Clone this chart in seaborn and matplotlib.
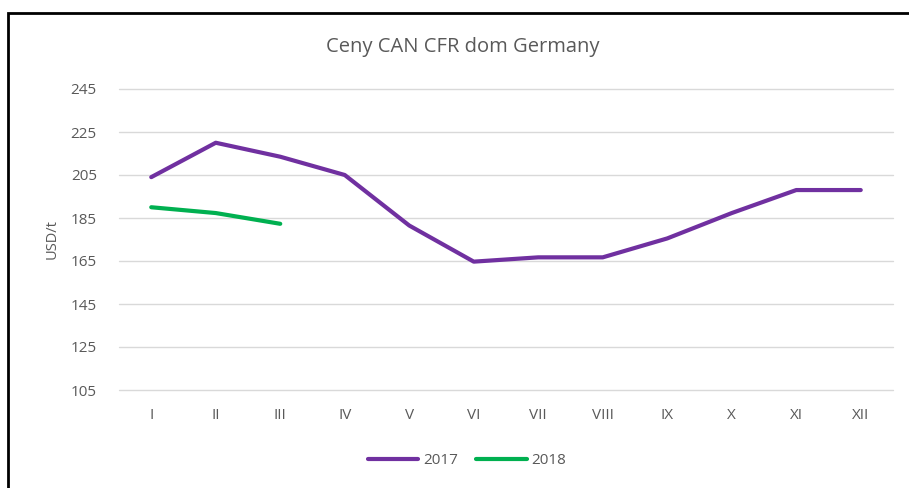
import matplotlib
matplotlib.use("Agg")
import matplotlib.pyplot as plt
import seaborn as sns
import pandas as pd
import numpy as np
from matplotlib.patches import Rectangle
from matplotlib.lines import Line2D

months = ["I", "II", "III", "IV", "V", "VI", "VII", "VIII", "IX", "X", "XI", "XII"]
values_2017 = [204, 220, 213.5, 205, 181.5, 164.7, 166.7, 166.7, 175.5, 187.3, 198, 198]
values_2018 = [190, 187.3, 182.3]
years = ["2017", "2018"]
colors = {"2017": "#7030A0", "2018": "#00B050"}
y_ticks = [105, 125, 145, 165, 185, 205, 225, 245]

rows = []
for m, v in zip(months, values_2017):
    rows.append({"month": m, "value": v, "year": "2017"})
for m, v in zip(months, values_2018):
    rows.append({"month": m, "value": v, "year": "2018"})
df = pd.DataFrame(rows)

sns.set_theme(style="white")
plt.rcParams["font.family"] = ["Open Sans", "DejaVu Sans"]

fig = plt.figure(figsize=(9.09, 4.88), dpi=100)
ax = fig.add_axes([119 / 909, 1 - 390 / 488, 774 / 909, 301 / 488])

sns.lineplot(data=df, x="month", y="value", hue="year", palette=colors,
             hue_order=years, linewidth=3, ax=ax, legend=False, sort=False)

ax.set_xlim(-0.5, 11.5)
ax.set_ylim(105, 245)
ax.set_yticks(y_ticks)
ax.set_xticks(range(len(months)))
ax.set_xticklabels(months)
ax.yaxis.grid(True, color="#D9D9D9", linewidth=1)
for gl in ax.get_ygridlines():
    gl.set_clip_on(False)
ax.set_axisbelow(True)
ax.xaxis.grid(False)
for s in ax.spines.values():
    s.set_visible(False)
ax.tick_params(axis="both", length=0, labelsize=11, labelcolor="#595959")
ax.tick_params(axis="y", pad=16)
ax.tick_params(axis="x", pad=13)
ax.set_xlabel("")
ax.set_ylabel("USD/t", fontsize=10.5, color="#595959", labelpad=8)

fig.text(463 / 909, 1 - 47 / 488, "Ceny CAN CFR dom Germany", fontsize=14.5,
         color="#595959", ha="center", va="center")

handles = [Line2D([0], [0], color=colors[y], linewidth=3) for y in years]
fig.legend(handles, years, loc="center", bbox_to_anchor=(467 / 909, 1 - 461 / 488),
           ncol=2, frameon=False, fontsize=11, handlelength=3.3, handletextpad=0.3,
           columnspacing=1.2, labelcolor="#595959")

fig.add_artist(Rectangle((8 / 909, -0.1), 1.2, 1.1 - 13 / 488, transform=fig.transFigure,
                         fill=False, edgecolor="black", linewidth=2))

fig.savefig("out.png", dpi=100)
